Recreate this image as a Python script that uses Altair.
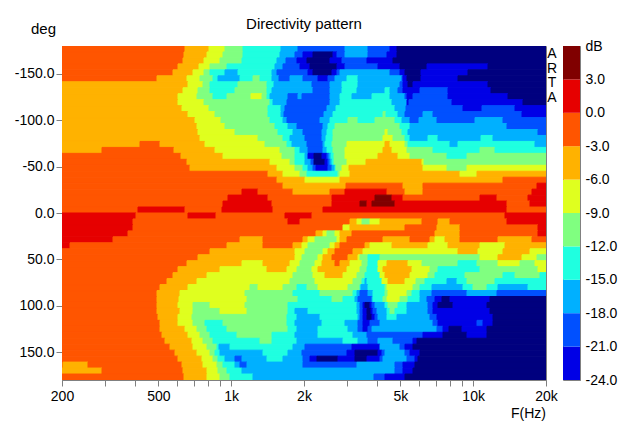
import re
import altair as alt
import pandas as pd

# Each row is one angle band. Letter = dB level band, number = log-frequency step where that band ends.
FIRST_STEP = 62
STEPS_PER_DECADE = 242
F_MIN = 200.0

ROWS_NEGATIVE = [
"r185 o209 y225 g243 c281 s298 B345 s368 B390 b397 n546",
"r184 o207 y223 g243 c280 s295 B303 b313 n333 b337 B345 s368 B387 b397 n546",
"r183 o204 y220 g242 c277 s286 B297 b307 n330 b342 B367 b393 n546",
"r178 o199 y210 g227 c275 s283 B300 b310 n337 b345 B378 b400 n427 b488 n546",
"r173 o193 y204 g210 c225 s238 c272 s277 B308 b313 n332 b337 B340 s390 B400 b405 n421 b468 n546",
"r157 o187 y200 g213 c218 s240 c253 g260 c272 s279 B290 s303 B318 b328 B335 s347 c358 s402 B403 b407 n421 b458 n546",
"o188 y203 g210 c238 g267 c274 s312 B330 s342 c358 s400 B403 b408 n413 b488 n546",
"o183 y198 g210 c235 g267 c272 s313 B330 s342 c357 s385 c390 s398 B403 b420 B448 b491 n546",
"o178 y197 g213 c227 g251 y262 g267 c270 s288 B298 s302 B330 s340 c352 s372 c390 s405 B407 b413 B448 b508 n546",
"o178 y204 g270 c273 s287 B330 s340 c392 s407 b409 B452 b523 n546",
"o182 y209 g268 c281 s285 B327 s336 c395 s406 B463 b482 B515 b546",
"o188 y215 g268 c281 s284 B324 s333 c383 g386 c398 s405 B423 s433 B522 b546",
"o195 y221 g270 c283 s287 B320 s330 c348 g358 c375 g395 c402 s410 B419 s437 B475 s503 B546",
"o197 y225 g275 c288 s297 B323 s328 c335 g400 c410 s507 B546",
"o198 y235 g278 c293 s303 B322 s327 c333 g385 y388 g402 c408 s538 B546",
"o200 y258 g283 c290 s305 B322 s326 c333 g383 y393 g405 c410 s428 c438 s481 c493 s546",
"o140 r160 o205 y265 g287 c292 s307 B323 s325 c332 g347 y385 o390 y405 g408 c450 s458 c535 s546",
"o102 r174 o215 y280 g295 c300 s308 B323 s327 c333 g345 y383 o392 y407 g433 c480 g495 c546",
"r181 o223 y282 g295 c305 s308 b314 n322 b327 B329 s331 c334 g345 y378 o398 y410 g447 c467 g546",
"r187 o270 y290 g295 c305 s311 B314 n325 b328 B330 s332 c334 g347 y366 o422 y424 g546",
"r190 o277 y295 g303 c308 s313 B316 b328 B332 s335 c336 g342 y349 o423 y447 g467 y546",
"r268 o283 y300 g307 c338 g340 y350 o460 y477 o546",
"r277 o305 y340 o503 r546",
"r283 o346 r403 o423 r537 R546",
"r242 R258 r293 o330 r345 R387 r405 o423 r532 R546",
"r228 R268 r332 R375 D392 R403 r480 R497 r528 R546",
"r223 R272 r332 R360 D367 R372 D395 R507 r530 R546",
"r138 R185 r222 R273 r323 R507 r546",
]

ROWS_POSITIVE = [
"R136 r188 R216 r285 R312 r505 R546",
"R133 r288 R300 r350 o357 y362 g370 y380 o422 r438 o450 r507 R546",
"R133 r343 y350 o405 r437 o460 r538 R546",
"R128 r316 o323 y327 g335 y340 o352 r435 o460 r538 R546",
"R113 r240 o263 r303 o308 y315 g337 y340 o347 r383 o410 r430 o435 y445 o460 r498 o532 r546",
"R70 r227 o263 r293 o302 y308 g330 y335 o340 r365 o370 y392 o428 y448 o480 y505 o546",
"r210 o295 y305 g323 y328 o335 r353 o363 y458 o478 y503 o530 y546",
"r198 o295 y302 g318 y323 o332 r348 o358 y360 g368 c380 g480 y498 o522 y537 g546",
"r187 o242 y263 o290 y300 g315 y322 o335 r340 o350 y362 g368 c378 y387 o408 y422 g458 c477 g498 y520 g535 y546",
"r178 o220 y267 o287 y297 g312 y318 o347 y360 g367 c378 y383 o412 y430 g438 c480 g538 y546",
"r173 o207 y293 g313 y325 o343 y357 g365 c380 y385 o410 y428 g435 c465 g503 c515 g540 c546",
"r167 o197 y290 g315 y353 g362 c365 s367 c382 y388 o405 y416 g425 c447 s457 c467 g495 c546",
"r160 o188 y250 g258 y283 g297 c307 g318 y348 g360 c361 s368 c385 g387 y413 g420 c432 s463 c473 g487 c498 s528 c546",
"r157 o180 y245 g293 c320 g353 c357 s360 B368 s373 c385 g388 y407 g412 c420 s432 B467 s497 B546",
"r157 o179 y247 g298 c332 g343 c355 s358 B372 s373 c383 g387 y400 g408 c420 s427 B435 b442 n450 b490 n546",
"r157 o178 y193 g210 y245 g288 c357 s360 B363 b365 n370 b372 B375 s385 c388 g398 c407 s428 B433 b438 n453 b487 n546",
"r157 o180 y193 g220 y247 g288 c295 s308 c357 s360 B363 b367 n371 b373 B377 s387 c390 g395 c407 s428 B433 b490 n546",
"r158 o178 y192 g287 c297 s320 c358 s360 B363 b367 n372 b375 B378 s387 c397 s430 B437 b493 n546",
"r160 o178 y193 g205 c223 g287 c295 s322 c345 s358 B363 b370 B380 s433 B438 b477 B483 b493 n546",
"r160 o185 y197 g207 c227 g288 c297 s318 c348 s358 B363 b368 B372 s437 B443 b449 n462 b487 n546",
"r162 o188 y200 g210 c237 g272 c295 s318 c353 s367 B423 b443 n467 b487 n546",
"r165 o192 y203 g213 c260 g272 c297 s343 c358 s368 B378 s393 B413 b417 n546",
"r170 o193 y207 g217 c219 s230 c293 s305 B352 b380 s400 B405 b413 n546",
"r175 o197 y210 g215 c220 s263 c288 s302 B347 b355 n378 b382 B385 s405 B410 b420 n546",
"r178 o202 y213 g218 c225 s235 B242 s267 c283 s303 B310 b317 n338 b355 n367 b380 B383 s407 B415 b418 n546",
"r63 o88 r182 o203 y217 g223 c235 s240 B247 s303 B357 s395 B403 b415 n546",
"o102 r183 o207 y218 g227 c242 s395 B403 b413 n546",
"r184 o207 y220 g230 c253 s374 B385 b405 n546",
]

LEVELS = ["n", "b", "B", "s", "c", "g", "y", "o", "r", "R", "D"]
LEVEL_COLORS = ["#00007F", "#0000E6", "#0050FF", "#00B0FF", "#1FFFE0", "#80FF80",
                "#DFFF1F", "#FFB200", "#FF5500", "#E60000", "#800000"]
BAR_LEVELS = LEVELS[1:]
BAR_EDGES = [-24, -21, -18, -15, -12, -9, -6, -3, 0, 3, 6]
X_TICKS = [200, 300, 400, 500, 600, 700, 800, 900, 1000, 2000, 3000, 4000, 5000, 6000,
           7000, 8000, 9000, 10000, 20000]
X_LABELED = {200: "200", 500: "500", 1000: "1k", 2000: "2k", 5000: "5k", 10000: "10k", 20000: "20k"}
Y_TICKS = [-150, -100, -50, 0, 50, 100, 150]
FONT = "Liberation Sans"
GRAY = "#808080"


def freq(step):
    return F_MIN * 10 ** ((step - FIRST_STEP) / STEPS_PER_DECADE)


records = []
all_rows = ROWS_NEGATIVE + ROWS_POSITIVE
row_deg = 360 / len(all_rows)
for i, row in enumerate(all_rows):
    start = FIRST_STEP
    for lev, end in re.findall(r"([A-Za-z])(\d+)", row):
        end = int(end)
        records.append(dict(f0=freq(start), f1=freq(end), d0=-180 + i * row_deg,
                            d1=-180 + (i + 1) * row_deg, level=lev))
        start = end
df = pd.DataFrame(records)

color_scale = alt.Scale(domain=LEVELS, range=LEVEL_COLORS)
x_scale = alt.Scale(type="log", domain=[200, 20000], nice=False)
y_scale = alt.Scale(domain=[-180, 180], reverse=True, nice=False, zero=False)

label_expr = "{" + ",".join(f"'{k}':'{v}'" for k, v in X_LABELED.items()) + "}[datum.value] || ''"

heat = alt.Chart(df).mark_rect(strokeWidth=1, clip=True).encode(
    x=alt.X("f0:Q", scale=x_scale, title=None,
            axis=alt.Axis(values=X_TICKS, labelExpr=label_expr, grid=False, tickColor=GRAY,
                          domainColor=GRAY, tickSize=6, labelFont=FONT, labelFontSize=14,
                          labelColor="#000", labelPadding=3, labelOverlap=False, labelFlush=False)),
    x2="f1:Q",
    y=alt.Y("d0:Q", scale=y_scale, title=None,
            axis=alt.Axis(values=Y_TICKS, grid=False, tickColor=GRAY, domainColor=GRAY, tickSize=6,
                          labelExpr="replace(format(datum.value,'.1f'),'\u2212','-')",
                          labelFont=FONT, labelFontSize=14, labelColor="#000", labelPadding=2)),
    y2="d1:Q",
    color=alt.Color("level:N", scale=color_scale, legend=None),
    stroke=alt.Stroke("level:N", scale=color_scale, legend=None),
)


def note(text, px, py, align="left", baseline="alphabetic", size=14, **kw):
    return alt.Chart(pd.DataFrame({"t": [text]})).mark_text(
        font=FONT, fontSize=size, color="#000", align=align, baseline=baseline, clip=False, **kw
    ).encode(text="t:N", x=alt.value(px), y=alt.value(py))


main = alt.layer(
    heat,
    note("Directivity pattern", 242, -17, align="center", size=15),
    note("deg", -31, -12, size=15),
    note("F(Hz)", 484, 372, align="right"),
    note("A\nR\nT\nA", 490, 1, align="center", baseline="top", lineBreak="\n", lineHeight=14.6),
).properties(width=484, height=334)

bar_df = pd.DataFrame({"lo": BAR_EDGES[:-1], "hi": BAR_EDGES[1:], "level": BAR_LEVELS})
bar = alt.Chart(bar_df).mark_rect().encode(
    y=alt.Y("lo:Q", scale=alt.Scale(domain=[-24, 6], nice=False, zero=False), title=None,
            axis=alt.Axis(values=BAR_EDGES, orient="right", ticks=False, grid=False, domainColor=GRAY,
                          labelFont=FONT, labelFontSize=14, labelColor="#000", labelPadding=5,
                          labelAlign="left", labelFlush=False, labelOverlap=False,
                          labelExpr="datum.value == 6 ? 'dB' : (datum.value > 0 ? '\u00a0' : '') + replace(format(datum.value,'.1f'),'\u2212','-')")),
    y2="hi:Q",
    color=alt.Color("level:N", scale=color_scale, legend=None),
).properties(width=17, height=334)

chart = alt.hconcat(main, bar, spacing=17, bounds="flush").properties(
    padding={"left": 5, "top": 8, "right": 5, "bottom": 5}
).configure_view(stroke=GRAY)

chart.save("out.html", embed_options={"renderer": "svg", "actions": False})
